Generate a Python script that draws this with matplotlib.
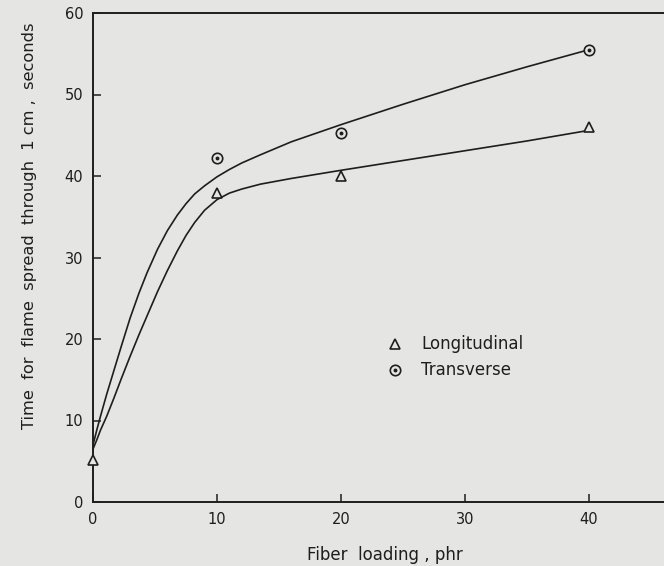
import matplotlib.pyplot as plt
import numpy as np

# measured points (fiber loading, phr -> seconds)
long_x = [0, 10, 20, 40]
long_y = [5.2, 37.9, 40.0, 46.0]
trans_x = [10, 20, 40]
trans_y = [42.2, 45.3, 55.5]

# hand drawn curves
curve_x = [0, 0.3, 0.6, 1.1, 1.7, 2.3, 3, 3.7, 4.35, 5.2, 6, 6.8, 7.5, 8.2, 9, 10, 11, 12, 13.5, 16, 20, 25, 30, 35, 40]
trans_curve = [7.0, 8.8, 10.5, 13.2, 16.2, 19.2, 22.6, 25.6, 28.1, 31.0, 33.3, 35.2, 36.6, 37.8, 38.8, 39.9, 40.8, 41.6, 42.6, 44.2, 46.3, 48.8, 51.2, 53.4, 55.5]
long_curve = [6.5, 7.6, 8.8, 10.5, 12.8, 15.2, 17.9, 20.5, 22.8, 25.8, 28.4, 30.8, 32.7, 34.3, 35.8, 37.1, 37.9, 38.4, 39.0, 39.7, 40.7, 41.9, 43.1, 44.3, 45.6]

bg = '#e5e5e3'
ink = '#1e1e1e'

fig = plt.figure(figsize=(6.64, 5.66), dpi=100, facecolor=bg)
ax = fig.add_axes([93/664, 1 - 502/566, 1 - 93/664, (502 - 13)/566])
ax.set_facecolor(bg)

ax.plot(curve_x, trans_curve, color=ink, lw=1.2, zorder=2)
ax.plot(curve_x, long_curve, color=ink, lw=1.2, zorder=2)

ax.plot(long_x, long_y, ls='none', marker='^', ms=7.5, mfc=bg, mec=ink, mew=1.2, zorder=3, clip_on=False)
ax.plot(trans_x, trans_y, ls='none', marker='o', ms=7.5, mfc=bg, mec=ink, mew=1.2, zorder=3)
ax.plot(trans_x, trans_y, ls='none', marker='o', ms=1.8, color=ink, zorder=4)

# legend drawn as text next to markers
ax.plot([24.35], [19.4], ls='none', marker='^', ms=7.5, mfc=bg, mec=ink, mew=1.2)
ax.plot([24.35], [16.15], ls='none', marker='o', ms=7.5, mfc=bg, mec=ink, mew=1.2)
ax.plot([24.35], [16.15], ls='none', marker='o', ms=1.8, color=ink)
ax.text(26.45, 19.4, 'Longitudinal', fontsize=12, color=ink, va='center')
ax.text(26.45, 16.15, 'Transverse', fontsize=12, color=ink, va='center')

ax.set_xlim(0, 46.05)
ax.set_ylim(0, 60)
ax.set_xticks([0, 10, 20, 30, 40])
ax.set_yticks([0, 10, 20, 30, 40, 50, 60])
ax.tick_params(direction='in', length=6, width=1.1, colors=ink, labelsize=10.5, pad=7)
ax.spines['right'].set_visible(False)
for s in ['left', 'bottom', 'top']:
    ax.spines[s].set_color(ink)
    ax.spines[s].set_linewidth(1.4)

ax.set_xlabel('Fiber  loading , phr', fontsize=12, color=ink)
ax.set_ylabel('Time  for  flame  spread  through  1 cm ,  seconds', fontsize=11.7, color=ink)
ax.xaxis.set_label_coords(0.511, -0.09)
ax.yaxis.set_label_coords(-0.098, 0.564)

fig.savefig('out.png', dpi=100, facecolor=bg)
